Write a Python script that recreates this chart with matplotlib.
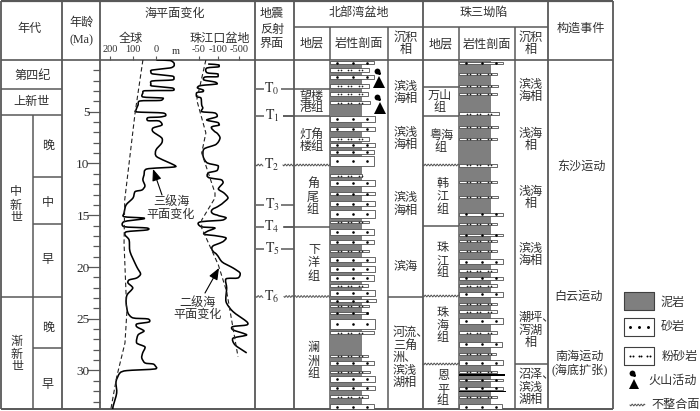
import numpy as np
import matplotlib
matplotlib.use("Agg")
import matplotlib.pyplot as plt
from matplotlib.patches import PathPatch
from matplotlib.path import Path

plt.rcParams["font.family"] = ["Liberation Serif", "Noto Sans CJK SC", "DejaVu Sans"]
plt.rcParams["mathtext.fontset"] = "stix"

# sea level curves: age (Ma) and level (m)
global_age = [0, .05, .29, .58, .77, .97, 1.16, 1.35, 1.55, 1.74, 1.93, 2.03, 2.32, 2.51, 2.70, 2.90, 2.95, 2.97,
              3.19, 3.57, 3.67, 3.77, 3.91, 3.96, 4.35, 4.83, 5.02, 5.12, 5.38, 5.51, 5.57, 5.86, 5.89, 6.28, 6.57,
              6.93, 7.53, 8.02, 8.69, 9.34, 10.14, 10.34, 10.53, 11.11, 11.59, 12.17, 12.56, 12.72, 13.33, 14.0,
              14.78, 15.14, 15.26, 15.36, 15.62, 16.1, 16.23, 16.42, 16.59, 16.9, 17.39, 18.52, 19.97, 20.67, 21.06,
              21.25, 21.54, 22.03, 22.7, 23.47, 24.44, 24.92, 25.02, 25.31, 25.5, 25.79, 26.18, 26.56, 27.34, 27.72,
              28.3, 28.78, 29.27, 29.37, 29.53, 29.85, 30.01, 30.24, 31.08, 32.17, 33.49, 33.81]
global_level = [0, -61, -78, -78, -61, 17, 22, 13, -70, -78, -70, 17, 22, 17, -70, -78, -61, 48,
                57, 57, -26, -30, -17, 70, 78, 87, 83, -30, -42, -17, 35, 35, -13, -26, 13,
                13, -25, -25, 0, -3, -78, -78, 40, 52, 57, 48, 61, 91, 100, 130,
                139, 139, 57, 57, 139, 139, 40, 39, 127, 135, 117, 113, 84, 67, 84,
                117, 122, 101, 126, 130, 122, 100, 35, 30, 83, 83, 52, 78, 84, 48,
                58, 62, 48, 13, 4, 4, 127, 157, 174, 171, 187, 188]
global_trend_age = [0, 5.12, 13.5, 17.68, 24.44, 27.34, 30.62, 33.81]
global_trend = [57, 91, 136, 139, 127, 135, 171, 197]

basin_age = [.39, .48, .65, .77, 1.23, 1.35, 1.61, 1.64, 1.93, 2.13, 2.32, 2.42, 2.51, 2.70, 2.9, 3.06, 3.16, 3.55,
             3.67, 4.35, 4.64, 4.99, 5.12, 5.48, 5.8, 6.06, 6.28, 6.47, 7.05, 7.53, 8.21, 8.6, 9.34, 9.95, 10.24,
             10.69, 10.92, 11.4, 11.59, 11.88, 12.46, 12.85, 13.33, 13.81, 14.3, 14.97, 15.23, 15.46, 15.62, 16.1,
             16.23, 16.59, 16.9, 17.19, 17.55, 17.87, 18.64, 19.48, 20.09, 20.58, 21.06, 21.15, 22.03, 23.35, 24.31,
             25.28, 25.6, 25.76, 26.08, 26.56, 26.88, 27.53, 28.3]
basin_level = [74, 119, 119, 71, 71, 100, 100, 66, 63, 92, 97, 66, 50, 46, 61, 60, 44, 44,
               55, 57, 60, 57, 92, 97, 70, 106, 125, 83, 97, 138, 92, 63, 61, 72, 106,
               97, 74, 79, 170, 195, 106, 214, 290, 195, 92, 97, 252, 195, 57, 55,
               92, 70, 74, 252, 195, 92, 92, 170, 385, 519, 480, 252, 265, 252, 385,
               646, 646, 379, 385, 646, 385, 424, 646]
basin_trend_age = [0, 3.86, 7.05, 8.98, 12.85, 13.33, 15.46, 16.23, 19.8, 22.38, 28.66]
basin_trend = [68, 44, 68, 57, 92, 92, 57, 57, 106, 265, 480]

# lithology logs: centre age, thickness (Ma), rock type, bar width
north_age = [.26, .97, 1.64, 2.51, 3.28, 4.12, 5.73, 6.67, 7.63, 8.21, 8.89, 9.76, 11.18, 11.88, 12.94, 13.9, 14.88,
             15.62, 16.59, 17.58, 18.45, 19.29, 20.19, 21.03, 21.8, 22.51, 23.25, 23.76, 24.44, 25.5, 26.34, 28.6,
             29.27, 30.14, 30.82, 31.68, 32.53, 33.49]
north_thick = [.3, .3, .3, .3, .3, .3, .6, .4, .3, .3, .3, .9, .3, .5, .3, .5, .7,
               .22, .6, .4, .22, .5, .5, .6, .22, .6, .22, .22, .22, .9, .3, .22,
               .4, .22, .5, .4, .3, .5]
north_rock = ["sand", "silt", "sand", "silt", "silt", "silt", "sand", "sand", "silt", "sand", "sand", "sand", "silt",
              "sand", "sand", "sand", "sand", "silt", "sand", "sand", "silt", "sand", "sand", "sand", "silt", "sand",
              "sand", "silt", "sand", "sand", "silt", "silt", "sand", "silt", "sand", "sand", "silt", "sand"]
north_width = [44, 39, 44, 39, 38, 40, 45, 45, 39, 45, 44, 44, 32, 45, 45, 45, 45,
               39, 44, 44, 39, 45, 45, 44, 38, 45, 46, 39, 38, 45, 44, 38,
               44, 40, 45, 45, 38, 44]

pearl_age = [.26, 1.38, 2.48, 3.28, 5.19, 6.5, 7.66, 10.17, 11.79, 13.23, 14.91, 15.87, 16.88, 17.51, 18.45, 19.48,
             20.35, 21.09, 21.8, 22.63, 23.57, 24.31, 25.21, 26.34, 27.46, 28.4, 29.24, 30.17, 30.94, 31.71, 32.55,
             33.49]
pearl_thick = [.22, .22, .22, .22, .3, .22, .22, .3, .22, .22, .3, .22, .22, .22, .22, .5,
               .22, .3, .22, .5, .22, .22, .5, .22, .5, .22, .5, .22, .22, .3, .22, .5]
pearl_rock = ["sand", "silt", "silt", "silt", "silt", "silt", "silt", "silt", "silt", "silt", "sand", "silt", "sand",
              "silt", "silt", "sand", "silt", "sand", "silt", "sand", "silt", "silt", "sand", "silt", "sand", "silt",
              "sand", "silt", "sand", "sand", "silt", "sand"]
pearl_width = [44, 38, 39, 38, 40, 39, 38, 38, 38, 39, 44, 38, 44, 38, 38, 44,
               38, 44, 38, 44, 38, 38, 44, 38, 43, 37, 44, 38, 44, 44, 38, 43]
pearl_black_age = [30.43, 32.04]
pearl_black_width = [46, 47]

age_ticks = list(range(1, 34))
age_labels = {5: "5", 10: "10", 15: "15", 20: "20", 25: "25", 30: "30"}
global_ticks = [200, 100, 0]
basin_ticks = [50, 100, 500]
basin_tick_labels = ["-50", "-100", "-500"]

# text in the table: x, y, string
plain_text = [
    (30, 29, "年代"), (82, 23, "年龄"), (82, 40, "(Ma)"), (175, 14, "海平面变化"),
    (131, 39, "全球"), (220, 39, "珠江口盆地"),
    (33, 76, "第四纪"), (32, 102, "上新世"), (48, 146, "晚"), (48, 203, "中"), (48, 260, "早"),
    (48, 328, "晚"), (48, 385, "早"),
    (272, 14, "地震"), (272, 30, "反射"), (272, 44, "界面"),
    (359, 13, "北部湾盆地"), (312, 44, "地层"), (359, 44, "岩性剖面"),
    (484, 13, "珠三坳陷"), (441, 45, "地层"), (487, 45, "岩性剖面"), (581, 29, "构造事件"),
    (406, 38, "沉积"), (406, 50, "相"), (531, 38, "沉积"), (531, 50, "相"),
    (406, 267, "滨海"),
    (581, 167, "东沙运动"), (579, 297, "白云运动"), (580, 357, "南海运动"), (580, 370, "(海底扩张)"),
    (171, 202, "三级海"), (171, 215, "平面变化"), (198, 303, "二级海"), (198, 315, "平面变化"),
    (673, 303, "泥岩"), (673, 327, "砂岩"), (680, 357, "粉砂岩"), (673, 381, "火山活动"), (676, 405, "不整合面"),
]
stacked_text = [
    (16, [192, 206, 218], "中新世"), (17, [342, 355, 367], "渐新世"),
    (313, [184, 198, 210], "角尾组"), (314, [250, 263, 277], "下洋组"), (314, [348, 362, 374], "澜洲组"),
    (443, [184, 197, 210], "韩江组"), (443, [248, 262, 273], "珠江组"), (443, [313, 326, 338], "珠海组"),
    (443, [376, 390, 401], "恩平组"),
]
row_text = [
    (312, [97, 108], ["望楼", "港组"]), (312, [135, 147], ["灯角", "楼组"]),
    (406, [87, 99], ["滨浅", "海相"]), (406, [133, 145], ["滨浅", "海相"]), (406, [198, 211], ["滨浅", "海相"]),
    (405, [333, 346, 358, 371, 383], ["河流、", "三角", "洲、", "滨浅", "湖相"]),
    (440, [96, 108], ["万山", "组"]), (441, [136, 148], ["粤海", "组"]),
    (531, [85, 97], ["滨浅", "海相"]), (531, [134, 146], ["浅海", "相"]), (531, [192, 204], ["浅海", "相"]),
    (531, [249, 261], ["滨浅", "海相"]), (531, [318, 331, 343], ["潮坪、", "泻湖", "相"]),
    (531, [375, 388, 400], ["沼泽、", "滨浅", "湖相"]),
]
horizon_names = ["T_0", "T_1", "T_2", "T_3", "T_4", "T_5", "T_6"]
horizon_y = [89, 116, 165, 205, 227, 249, 296.5]

INK = "#303030"
GRID = "#585858"
MUD = "#7f7f7f"
CJK_SIZE = 8.7

W, H = 700, 411
fig = plt.figure(figsize=(7, 4.11), dpi=100)
ax = fig.add_axes([0, 0, 1, 1])
ax.set_xlim(0, W)
ax.set_ylim(H, 0)
ax.axis("off")


def hline(y, x0, x1, lw=1.1):
    ax.plot([x0, x1], [y, y], color=GRID, lw=lw, solid_capstyle="butt")


def vline(x, y0, y1, lw=1.1):
    ax.plot([x, x], [y0, y1], color=GRID, lw=lw, solid_capstyle="butt")


def wavy(y, x0, x1):
    xs = np.arange(x0, x1, 0.4)
    ax.plot(xs, y + 0.9 * np.sin((xs - x0) * 2.1), color=GRID, lw=0.7)


def smooth_curve(axes, xv, yv, lw=1.15):
    # cubic path through the read points, so the drawing has rounded turns
    pts = np.column_stack([xv, yv])
    verts = [pts[0]]
    codes = [Path.MOVETO]
    for i in range(len(pts) - 1):
        before = pts[max(i - 1, 0)]
        after = pts[min(i + 2, len(pts) - 1)]
        verts += [pts[i] + (pts[i + 1] - before) / 8, pts[i + 1] - (after - pts[i]) / 8, pts[i + 1]]
        codes += [Path.CURVE4] * 3
    axes.add_patch(PathPatch(Path(verts, codes), fill=False, edgecolor="black", lw=lw, joinstyle="round"))


# table frame
hline(1, 1, 613, 1.6)
hline(60, 1, 613, 1.2)
hline(409, 1, 613, 1.4)
hline(27, 294, 548)
for x in [1, 62, 100, 255, 294, 423, 548, 613]:
    vline(x, 1, 409, 1.3)
for x in [330, 388, 459, 515]:
    vline(x, 27, 409, 1.1)
vline(33, 115, 409)
for y, x0, x1 in [(89, 1, 62), (115, 1, 62), (177.5, 33, 62), (223.5, 33, 62), (297, 1, 62), (348, 33, 62),
                  (89, 294, 330), (116, 283, 330), (227, 284, 330), (87.5, 423, 459), (115.7, 423, 459),
                  (226, 423, 459), (296.5, 388, 423), (364, 515, 548)]:
    hline(y, x0, x1)
for y, x0, x1 in [(165, 283, 330), (296.5, 284, 330), (165, 423, 459), (296, 423, 459), (364, 423, 459)]:
    wavy(y, x0, x1)

# horizons
for name, y in zip(horizon_names, horizon_y):
    ax.text(272, y, "$\\mathrm{%s}$" % name, ha="center", va="center", fontsize=10, color=INK)
    if name in ("T_2", "T_6"):
        wavy(y, 256, 263)
    else:
        hline(y, 256, 264)
    if name in ("T_0", "T_3", "T_5"):
        hline(y, 281, 294)
    elif name in ("T_1", "T_4"):
        hline(y, 283, 294)

# text
for x, y, s in plain_text:
    ax.text(x, y, s, ha="center", va="center", fontsize=CJK_SIZE, color=INK)
ax.text(176, 51, "m", ha="center", va="center", fontsize=7.5, color=INK)
for x, ys, s in stacked_text:
    for y, ch in zip(ys, s):
        ax.text(x, y, ch, ha="center", va="center", fontsize=CJK_SIZE, color=INK)
for x, ys, rows in row_text:
    for y, row in zip(ys, rows):
        # a trailing pause mark hangs out to the right of the column
        dx = 6 if len(row) == 3 else 0
        ax.text(x + dx, y, row, ha="center", va="center", fontsize=CJK_SIZE, color=INK)

# sea level panel, real age and level axes
left, right, top, bottom = 100, 255, 60, 409
age_max = (bottom - top) / 10.35
ax_sea = fig.add_axes([left / W, 1 - bottom / H, (right - left) / W, (bottom - top) / H])
ax_sea.patch.set_visible(False)
ax_sea.set_xlim((156 - left) * 4.35, (156 - right) * 4.35)
ax_sea.set_ylim(age_max, 0)
for sp in ax_sea.spines.values():
    sp.set_visible(False)
ax_sea.set_yticks(age_ticks)
ax_sea.set_yticklabels([age_labels.get(a, "") for a in age_ticks], fontsize=9.5, color=INK)
ax_sea.tick_params(axis="y", length=5, width=0.9, color=GRID, pad=2.5)
for a, tick in zip(age_ticks, ax_sea.yaxis.get_major_ticks()):
    if a in age_labels:
        tick.tick1line.set_markersize(9.4)

basin_scale_v = [-210, 50, 100, 500, 900]
basin_scale_px = [100, 199, 218, 239, 260]
ax_basin = ax_sea.twiny()
ax_basin.patch.set_visible(False)
ax_basin.set_xscale("function", functions=(lambda v: np.interp(v, basin_scale_v, basin_scale_px),
                                           lambda p: np.interp(p, basin_scale_px, basin_scale_v)))
ax_basin.set_xlim(-210, 804)
for sp in ax_basin.spines.values():
    sp.set_visible(False)
ax_basin.set_xticks(basin_ticks)
ax_basin.set_xticklabels(basin_tick_labels, fontsize=7.5, color=INK)
ax_basin.minorticks_off()
ax_basin.tick_params(axis="x", length=3, width=0.8, color=GRID, pad=1)
smooth_curve(ax_basin, basin_level, basin_age)
ax_basin.plot(basin_trend, basin_trend_age, color="#222222", lw=0.8, dashes=(4, 2.5))

# twiny moved these to the bottom, so the top ticks are set after it
ax_sea.xaxis.tick_top()
ax_sea.set_xticks(global_ticks)
ax_sea.set_xticklabels([str(t) for t in global_ticks], fontsize=7.5, color=INK)
ax_sea.tick_params(axis="x", length=3, width=0.8, color=GRID, pad=1)
smooth_curve(ax_sea, global_level, global_age)
ax_sea.plot(global_trend, global_trend_age, color="#222222", lw=0.8, dashes=(4, 2.5))

# arrows and the rest sit on top of the sea level panel
ax_top = fig.add_axes([0, 0, 1, 1])
ax_top.set_xlim(0, W)
ax_top.set_ylim(H, 0)
ax_top.axis("off")
for tail, tip in [((162, 195), (153, 169)), ((205, 293), (219, 268))]:
    ax_top.annotate("", xy=tip, xytext=tail,
                    arrowprops=dict(arrowstyle="-|>,head_length=0.7,head_width=0.28", color="black", lw=0.8,
                                    shrinkA=0, shrinkB=0))

# lithology logs
ax_lith = fig.add_axes([0, 1 - bottom / H, 1, (bottom - top) / H])
ax_lith.patch.set_visible(False)
ax_lith.set_xlim(0, W)
ax_lith.set_ylim(age_max, 0)
ax_lith.axis("off")


def draw_log(x0, ages, thick, rocks, widths, mud_width=32):
    ax_lith.barh(age_max / 2, mud_width, height=age_max, left=x0, color=MUD, edgecolor="none")
    ax_lith.barh(ages, widths, height=thick, left=x0, color="white", edgecolor="#505050", linewidth=0.6, zorder=2)
    for a, rock in zip(ages, rocks):
        if rock == "sand":
            ax_lith.scatter([x0 + 7, x0 + 23, x0 + 37], [a] * 3, s=3.5, color="black", linewidths=0, zorder=3)
        else:
            dots = [x0 + 8, x0 + 10.5, x0 + 18, x0 + 20.5, x0 + 29, x0 + 31.5]
            ax_lith.scatter(dots, [a] * 6, s=1.5, color="#222222", linewidths=0, zorder=3)


draw_log(330, north_age, north_thick, north_rock, north_width)
draw_log(459, pearl_age, pearl_thick, pearl_rock, pearl_width)
ax_lith.barh(pearl_black_age, pearl_black_width, height=0.17, left=459, color="black", zorder=4)

# volcanoes and legend
for x, y, tx, ty, ms in [(377, 71, 379, 82, 8), (377, 97.5, 380, 108, 9), (632, 373, 634, 384, 7.5)]:
    ax_top.plot([tx], [ty], marker="^", color="black", ms=ms, mew=0)
    ax_top.plot([x], [y], marker="o", color="black", ms=4.2, mew=0)
    ax_top.plot([x + 2], [y + 2], marker="o", color="black", ms=2.2, mew=0)

for y0, y1, face in [(292, 310, MUD), (318, 336, "white"), (347, 365, "white")]:
    ax_top.fill_between([624, 654], y0, y1, facecolor=face, edgecolor="#404040", linewidth=0.8)
ax_top.scatter([630, 639, 648], [327, 327, 327], s=4.5, color="black", linewidths=0)
ax_top.scatter([630, 632.5, 638.5, 641, 647, 649.5], [356] * 6, s=2, color="black", linewidths=0)
xs = np.arange(630, 645, 0.4)
ax_top.plot(xs, 405 + 0.9 * np.sin((xs - 630) * 2.1), color=GRID, lw=0.7)

fig.savefig("out.png", dpi=100)
